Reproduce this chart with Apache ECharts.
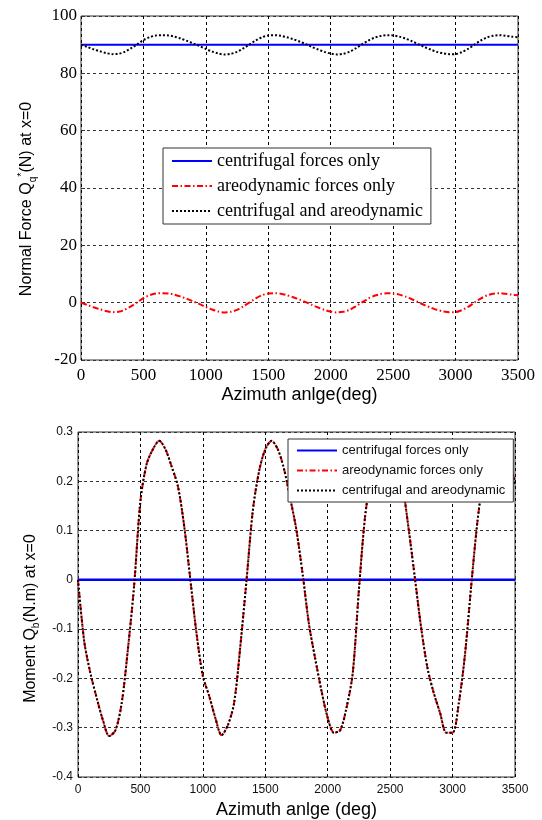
<!DOCTYPE html>
<html>
<head>
<meta charset="utf-8">
<script src="https://cdn.jsdelivr.net/npm/echarts@6/dist/echarts.min.js"></script>
<style>
html,body{margin:0;padding:0;background:#fff;}
#chart{width:542px;height:820px;}
</style>
</head>
<body>
<div id="chart"></div>
<script>
// Azimuth angle (deg) samples
var angles = [0,50,100,150,200,250,300,350,400,450,500,550,600,650,700,750,800,850,900,950,
  1000,1050,1100,1150,1200,1250,1300,1350,1400,1450,1500,1550,1600,1650,1700,1750,1800,1850,1900,1950,
  2000,2050,2100,2150,2200,2250,2300,2350,2400,2450,2500,2550,2600,2650,2700,2750,2800,2850,2900,2950,
  3000,3050,3100,3150,3200,3250,3300,3350,3400,3450,3500];

var seriesNames = ['centrifugal forces only', 'areodynamic forces only', 'centrifugal and areodynamic'];

// Top chart: Normal force (N)
var forceCentrifugal = [90,90,90,90,90,90,90,90,90,90,90,90,90,90,90,90,90,90,90,90,
  90,90,90,90,90,90,90,90,90,90,90,90,90,90,90,90,90,90,90,90,
  90,90,90,90,90,90,90,90,90,90,90,90,90,90,90,90,90,90,90,90,
  90,90,90,90,90,90,90,90,90,90,90];
var forceAero = [0,-0.8,-1.6,-2.3,-2.9,-3.3,-3.2,-2.5,-1.3,0.1,1.6,2.6,3.2,3.3,3.2,2.8,2.1,1.3,0.4,-0.5,
  -1.5,-2.4,-3.1,-3.4,-3.2,-2.5,-1.3,0.1,1.5,2.6,3.2,3.3,3.1,2.6,1.9,1.1,0.2,-0.8,-1.7,-2.5,
  -3.1,-3.4,-3.2,-2.5,-1.3,0.1,1.4,2.4,3.0,3.3,3.2,2.8,2.1,1.2,0.2,-0.8,-1.7,-2.5,-3.0,-3.3,
  -3.3,-2.6,-1.5,0.0,1.4,2.5,3.1,3.3,3.1,2.8,2.6];
var forceBoth = [90,89.2,88.4,87.7,87.1,86.7,86.8,87.5,88.7,90.1,91.6,92.6,93.2,93.3,93.2,92.8,92.1,91.3,90.4,89.5,
  88.5,87.6,86.9,86.6,86.8,87.5,88.7,90.1,91.5,92.6,93.2,93.3,93.1,92.6,91.9,91.1,90.2,89.2,88.3,87.5,
  86.9,86.6,86.8,87.5,88.7,90.1,91.4,92.4,93.0,93.3,93.2,92.8,92.1,91.2,90.2,89.2,88.3,87.5,87.0,86.7,
  86.7,87.4,88.5,90.0,91.4,92.5,93.1,93.3,93.1,92.8,92.6];

// Bottom chart: Moment (N.m)
var momentCentrifugal = [0,0,0,0,0,0,0,0,0,0,0,0,0,0,0,0,0,0,0,0,
  0,0,0,0,0,0,0,0,0,0,0,0,0,0,0,0,0,0,0,0,
  0,0,0,0,0,0,0,0,0,0,0,0,0,0,0,0,0,0,0,0,
  0,0,0,0,0,0,0,0,0,0,0];
var momentAero = [0.0,-0.125,-0.19,-0.24,-0.285,-0.317,-0.305,-0.25,-0.14,-0.01,
  0.16,0.235,0.265,0.282,0.265,0.23,0.19,0.11,0.0,-0.11,
  -0.195,-0.235,-0.28,-0.315,-0.295,-0.25,-0.135,0.0,0.14,0.22,
  0.265,0.282,0.265,0.225,0.165,0.1,0.01,-0.09,-0.16,-0.225,
  -0.28,-0.31,-0.305,-0.26,-0.19,-0.02,0.13,0.21,0.26,0.28,
  0.275,0.245,0.19,0.1,0.0,-0.1,-0.18,-0.23,-0.27,-0.31,
  -0.31,-0.25,-0.15,-0.01,0.12,0.21,0.26,0.28,0.27,0.245,0.195];
var momentBoth = [0.0,-0.125,-0.19,-0.24,-0.285,-0.317,-0.305,-0.25,-0.14,-0.01,
  0.16,0.235,0.265,0.282,0.265,0.23,0.19,0.11,0.0,-0.11,
  -0.195,-0.235,-0.28,-0.315,-0.295,-0.25,-0.135,0.0,0.14,0.22,
  0.265,0.282,0.265,0.225,0.165,0.1,0.01,-0.09,-0.16,-0.225,
  -0.28,-0.31,-0.305,-0.26,-0.19,-0.02,0.13,0.21,0.26,0.28,
  0.275,0.245,0.19,0.1,0.0,-0.1,-0.18,-0.23,-0.27,-0.31,
  -0.31,-0.25,-0.15,-0.01,0.12,0.21,0.26,0.28,0.27,0.245,0.195];

function pairs(vals){ return angles.map(function(a,i){ return [a, vals[i]]; }); }

var SERIF = 'Liberation Serif';
var SANS = 'Liberation Sans';
var DASHDOT = [6,2.5,1.5,2.5];
var DOT = [2,2];

var chart = echarts.init(document.getElementById('chart'), null, {renderer:'canvas'});

function gridLines(color){
  return {show:true, lineStyle:{color:color, type:[3,3], width:1}};
}
function plain(v){ return String(v); }

var option = {
  animation:false,
  backgroundColor:'#fff',
  grid:[
    {left:81, right:24, top:16, height:344, show:true, borderColor:'#333', borderWidth:1},
    {left:78, right:27, top:432, height:346, show:true, borderColor:'#333', borderWidth:1}
  ],
  legend:[
    {
      left:163, top:148, orient:'vertical', z:20,
      data:seriesNames,
      backgroundColor:'#fff', borderColor:'#333', borderWidth:1,
      padding:[4,8,4,8], itemGap:7, itemWidth:40, itemHeight:14,
      itemStyle:{opacity:0},
      textStyle:{fontFamily:SERIF, fontSize:18, color:'#000', lineHeight:18},
      selectedMode:false
    },
    {
      left:288, top:439, orient:'vertical', z:20,
      data:seriesNames,
      backgroundColor:'#fff', borderColor:'#333', borderWidth:1,
      padding:[4,8,4,8], itemGap:5, itemWidth:40, itemHeight:14,
      itemStyle:{opacity:0},
      textStyle:{fontFamily:SANS, fontSize:13, color:'#111', lineHeight:15},
      selectedMode:false
    }
  ],
  xAxis:[
    {
      type:'value', gridIndex:0, min:0, max:3500, interval:500,
      name:'Azimuth anlge(deg)', nameLocation:'middle', nameGap:26,
      nameTextStyle:{fontFamily:SANS, fontSize:18, color:'#000'},
      axisLine:{show:false}, axisTick:{inside:true, length:4, lineStyle:{color:'#333'}},
      axisLabel:{fontFamily:SERIF, fontSize:17, color:'#000', margin:7, formatter:plain},
      splitLine:gridLines('#000')
    },
    {
      type:'value', gridIndex:1, min:0, max:3500, interval:500,
      name:'Azimuth anlge (deg)', nameLocation:'middle', nameGap:24,
      nameTextStyle:{fontFamily:SANS, fontSize:18, color:'#000'},
      axisLine:{show:false}, axisTick:{inside:true, length:4, lineStyle:{color:'#333'}},
      axisLabel:{fontFamily:SANS, fontSize:12, color:'#111', margin:7, formatter:plain},
      splitLine:gridLines('#000')
    }
  ],
  yAxis:[
    {
      type:'value', gridIndex:0, min:-20, max:100, interval:20,
      name:'Normal Force Q{q|q}{s|*}(N) at x=0', nameLocation:'middle', nameGap:43, nameRotate:90,
      nameTextStyle:{fontFamily:SANS, fontSize:16, color:'#000', lineHeight:22, padding:[0,22,0,0],
        rich:{
          q:{fontFamily:SANS, fontSize:10, color:'#000', verticalAlign:'bottom', lineHeight:10},
          s:{fontFamily:SANS, fontSize:11, color:'#000', verticalAlign:'top', lineHeight:10}
        }},
      axisLine:{show:false}, axisTick:{inside:true, length:4, lineStyle:{color:'#333'}},
      axisLabel:{fontFamily:SERIF, fontSize:17, color:'#000', margin:4},
      splitLine:gridLines('#333')
    },
    {
      type:'value', gridIndex:1, min:-0.4, max:0.3, interval:0.1,
      name:'Moment Q{q|b}(N.m) at x=0', nameLocation:'middle', nameGap:36, nameRotate:90,
      nameTextStyle:{fontFamily:SANS, fontSize:16, color:'#000', lineHeight:22, padding:[0,28,0,0],
        rich:{
          q:{fontFamily:SANS, fontSize:10, color:'#000', verticalAlign:'bottom', lineHeight:10}
        }},
      axisLine:{show:false}, axisTick:{inside:true, length:4, lineStyle:{color:'#333'}},
      axisLabel:{fontFamily:SANS, fontSize:12, color:'#111', margin:5},
      splitLine:gridLines('#333')
    }
  ],
  series:[
    {name:seriesNames[0], type:'line', xAxisIndex:0, yAxisIndex:0, data:pairs(forceCentrifugal),
      symbol:'none', lineStyle:{color:'#0000ff', width:2}, itemStyle:{color:'#0000ff'}, z:2},
    {name:seriesNames[1], type:'line', xAxisIndex:0, yAxisIndex:0, data:pairs(forceAero),
      symbol:'none', smooth:0.3, lineStyle:{color:'#ff0000', width:2, type:DASHDOT}, itemStyle:{color:'#ff0000'}, z:2},
    {name:seriesNames[2], type:'line', xAxisIndex:0, yAxisIndex:0, data:pairs(forceBoth),
      symbol:'none', smooth:0.3, lineStyle:{color:'#000', width:2, type:DOT}, itemStyle:{color:'#000'}, z:2},
    {name:seriesNames[0], type:'line', xAxisIndex:1, yAxisIndex:1, data:pairs(momentCentrifugal),
      symbol:'none', lineStyle:{color:'#0000ff', width:2.5}, itemStyle:{color:'#0000ff'}, z:2},
    {name:seriesNames[1], type:'line', xAxisIndex:1, yAxisIndex:1, data:pairs(momentAero),
      symbol:'none', smooth:0.3, lineStyle:{color:'#ff0000', width:2, type:DASHDOT}, itemStyle:{color:'#ff0000'}, z:2},
    {name:seriesNames[2], type:'line', xAxisIndex:1, yAxisIndex:1, data:pairs(momentBoth),
      symbol:'none', smooth:0.3, lineStyle:{color:'#000', width:2, type:DOT}, itemStyle:{color:'#000'}, z:2}
  ]
};
chart.setOption(option);
</script>
</body>
</html>
